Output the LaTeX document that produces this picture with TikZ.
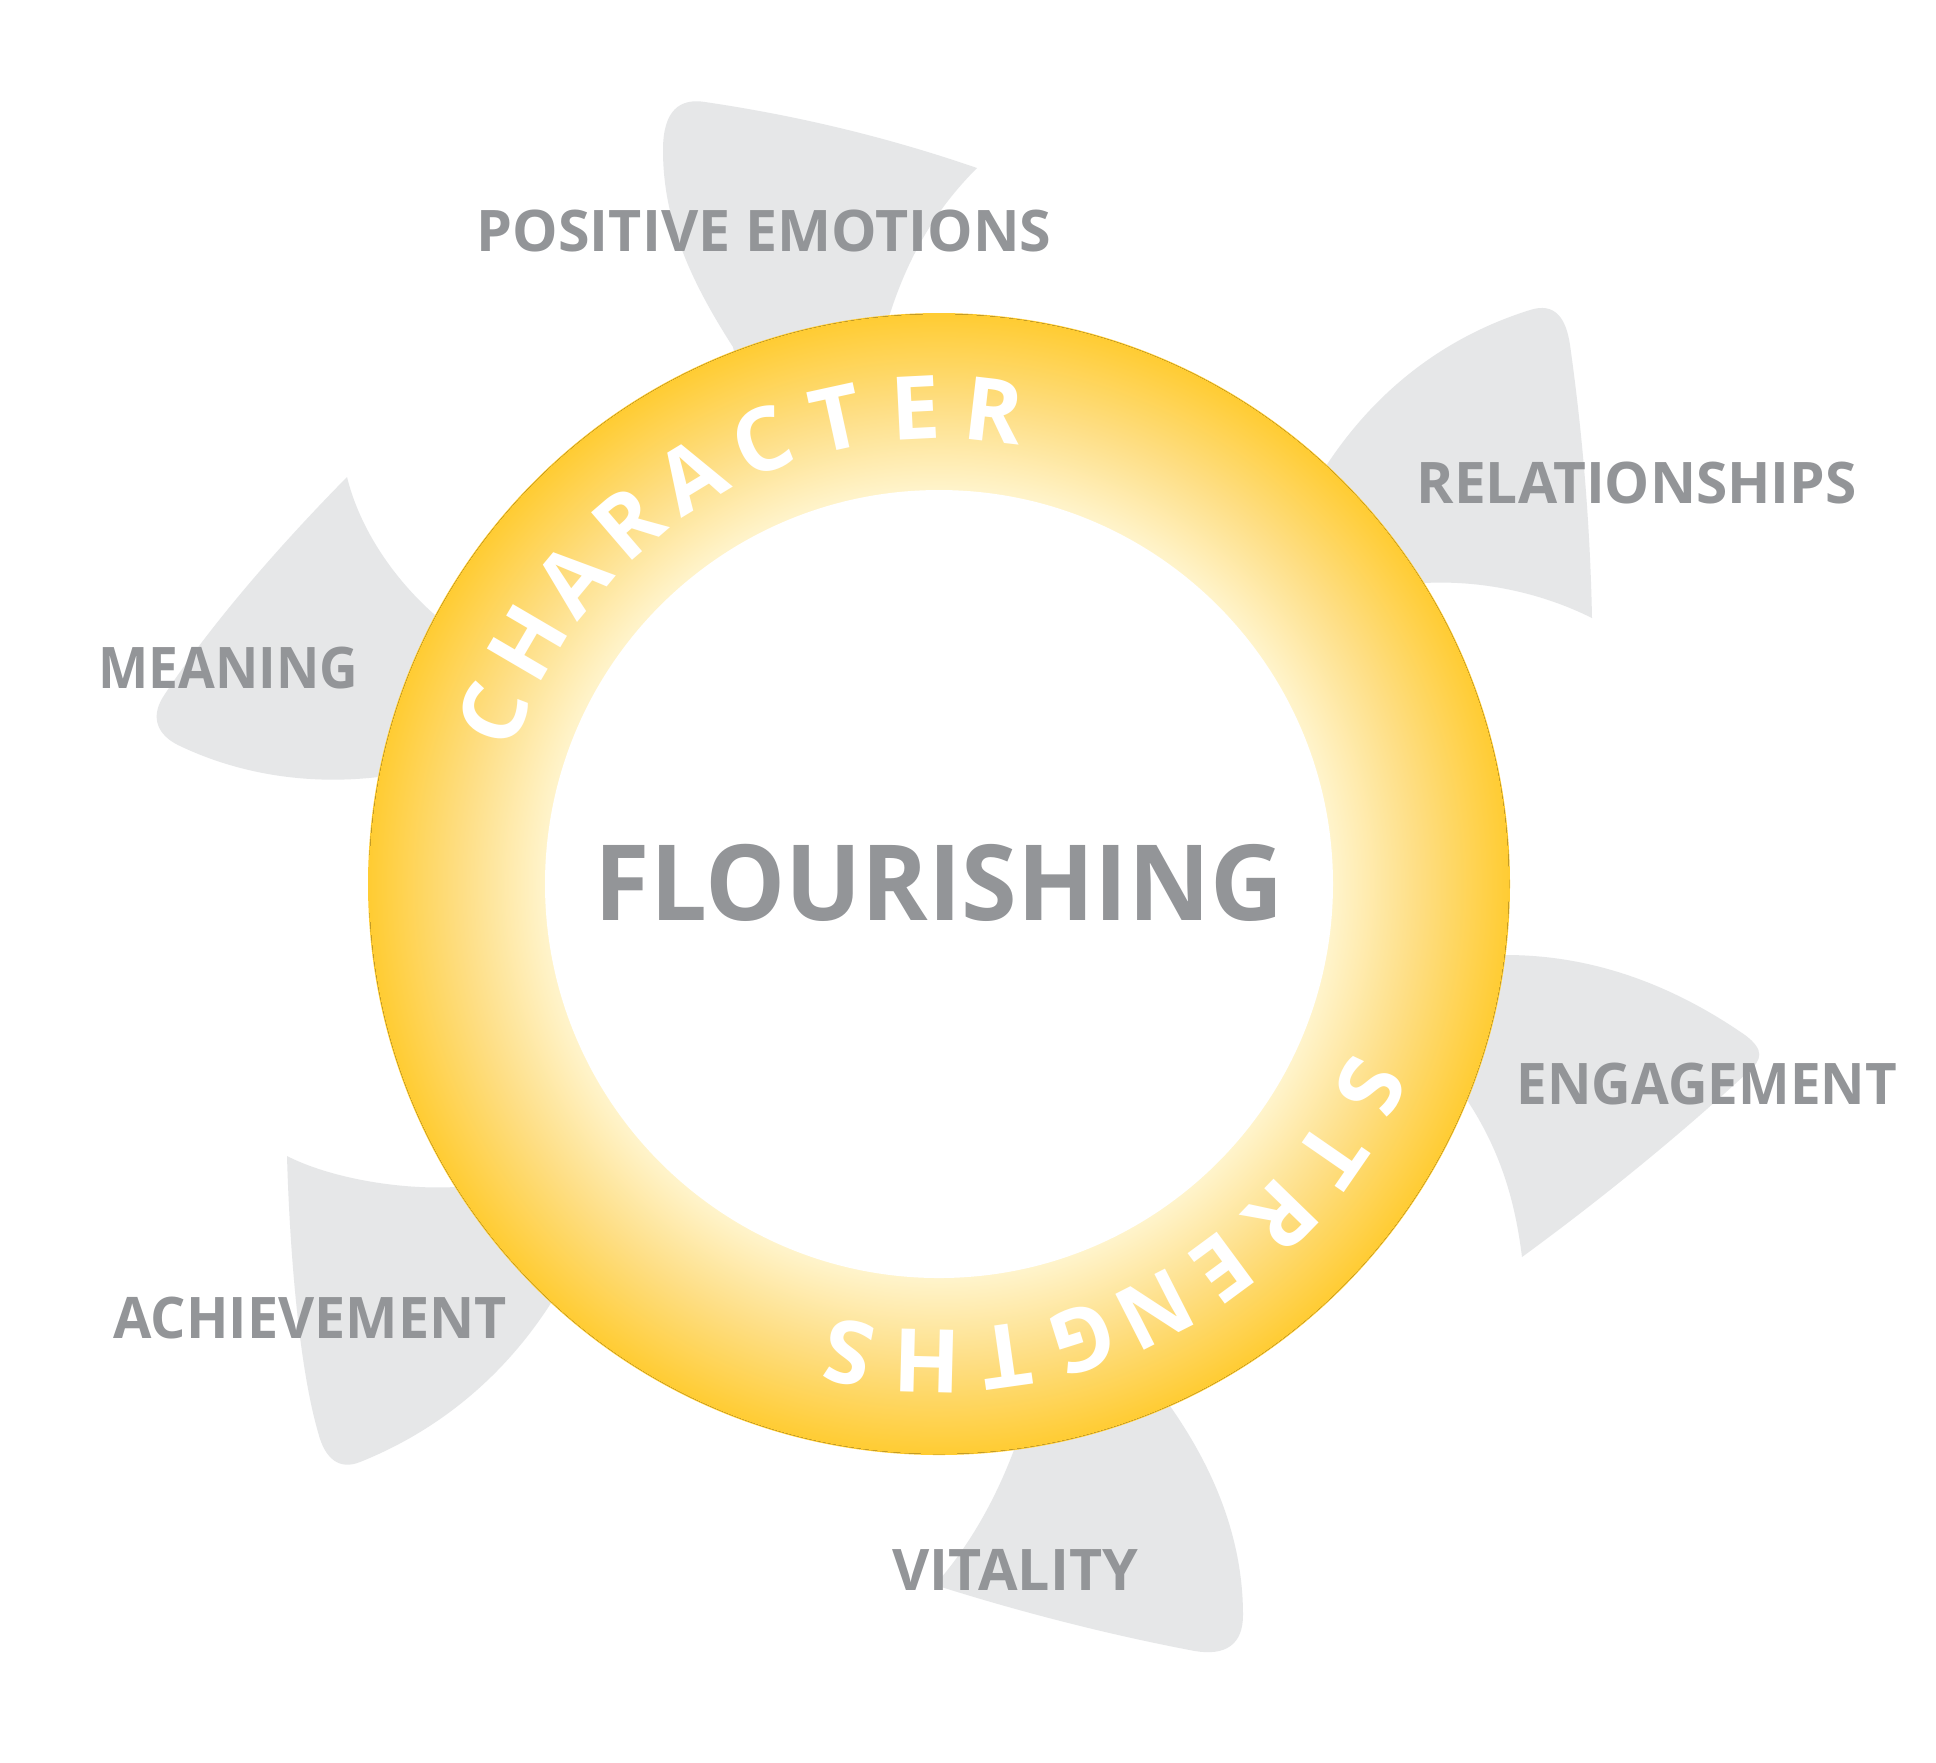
\documentclass[tikz,border=0pt]{standalone}
\usepackage{fontspec}
\setmainfont{Open Sans}
\usetikzlibrary{positioning}
\definecolor{petalgray}{RGB}{230,231,232}
\definecolor{textgray}{RGB}{147,149,152}
\definecolor{ringouter}{RGB}{255,204,51}
\definecolor{ringmid}{RGB}{254,222,132}
\definecolor{ringinner}{RGB}{255,244,204}
\pgfdeclareradialshading{ringshade}{\pgfpoint{0bp}{0bp}}{%
  color(0bp)=(ringinner); color(17.25bp)=(ringinner);
  color(21bp)=(ringmid); color(25bp)=(ringouter); color(50bp)=(ringouter)}
\newcommand{\narrow}[2]{\scalebox{#1}[1]{#2}}
\tikzset{
  petal/.style={fill=petalgray},
  petaltext/.style={text=textgray, anchor=base west, inner sep=0pt,
    font=\bfseries\fontsize{16.3}{18}\selectfont},
  centertext/.style={text=textgray, anchor=base west, inner sep=0pt,
    font=\bfseries\fontsize{29.9}{32}\selectfont},
  ringletter/.style={text=white, inner sep=0pt,
    font=\bfseries\fontsize{25}{28}\selectfont},
}
\begin{document}
\begin{tikzpicture}[x=0.01cm, y=-0.01cm]
  \useasboundingbox (0,0) rectangle (1936,1762);
  \fill[white] (0,0) rectangle (1936,1762);

  % petals
  \path[petal] (745,400) -- (733,347) .. controls (690,280) and (663,220) .. (663,150)
    .. controls (663,110) and (680,98) .. (705,102) .. controls (800,116) and (890,138) .. (977,168)
    .. controls (935,210) and (905,260) .. (885,330) -- (870,400) -- cycle;
  \path[petal] (1300,500) -- (1328,463) .. controls (1380,385) and (1450,335) .. (1530,310)
    .. controls (1555,302) and (1566,318) .. (1570,345) .. controls (1582,430) and (1590,520) .. (1592,618)
    .. controls (1540,592) and (1480,580) .. (1424,583) -- (1390,560) -- cycle;
  \path[petal] (1480,950) -- (1506,955) .. controls (1600,955) and (1680,990) .. (1745,1035)
    .. controls (1765,1050) and (1762,1060) .. (1748,1072) .. controls (1680,1135) and (1600,1200) .. (1522,1257)
    .. controls (1515,1200) and (1500,1150) .. (1467,1100) -- (1450,1050) -- cycle;
  \path[petal] (1050,1430) -- (1014,1450) .. controls (995,1500) and (970,1545) .. (935,1585)
    .. controls (1020,1612) and (1110,1635) .. (1195,1651) .. controls (1225,1656) and (1243,1645) .. (1243,1615)
    .. controls (1243,1540) and (1215,1470) .. (1170,1406) -- (1130,1400) -- cycle;
  \path[petal] (480,1180) -- (455,1187) .. controls (400,1190) and (330,1178) .. (287,1156)
    .. controls (290,1260) and (300,1370) .. (318,1432) .. controls (325,1460) and (340,1470) .. (360,1462)
    .. controls (440,1430) and (505,1375) .. (551,1303) -- (560,1250) -- cycle;
  \path[petal] (480,700) -- (435,615) .. controls (395,580) and (360,530) .. (347,477)
    .. controls (280,545) and (210,625) .. (163,697) .. controls (150,718) and (158,735) .. (178,745)
    .. controls (240,775) and (310,785) .. (378,777) -- (470,760) -- cycle;

  % ring
  \fill[ringouter] (939,884) circle (571);
  \fill[shading=ringshade] (939,884) circle (570);
  \fill[white] (939,884) circle (394);

  \node[centertext] (flour) at (594,920) {\narrow{0.96}{FLOURISHING}};

  \node[petaltext] (posemo) at (476,251) {POSITIVE EMOTIONS};
  \node[petaltext] (relat) at (1416,503) {\narrow{0.99}{RELATIONSHIPS}};
  \node[petaltext] (engage) at (1516,1104) {\narrow{0.955}{ENGAGEMENT}};
  \node[petaltext] (vital) at (892,1590) {VITALITY};
  \node[petaltext] (achieve) at (113,1338) {\narrow{0.97}{ACHIEVEMENT}};
  \node[petaltext] (mean) at (98,688) {\narrow{0.93}{MEANING}};

  % words round the ring
  \begin{scope}[shift={(939,884)}, x=0.01cm, y=0.01cm]
    \foreach \ch [count=\i] in {C,H,A,R,A,C,T,E,R} {
      \pgfmathsetmacro\ang{159.1-9.46*(\i-1)}
      \node[ringletter, rotate=\ang-90] (char\i) at (\ang:477) {\ch};
    }
    \foreach \ch [count=\i] in {S,T,R,E,N,G,T,H,S} {
      \pgfmathsetmacro\ang{-25.2-9.46*(\i-1)}
      \node[ringletter, rotate=\ang-90] (str\i) at (\ang:477) {\ch};
    }
  \end{scope}
\end{tikzpicture}
\end{document}
